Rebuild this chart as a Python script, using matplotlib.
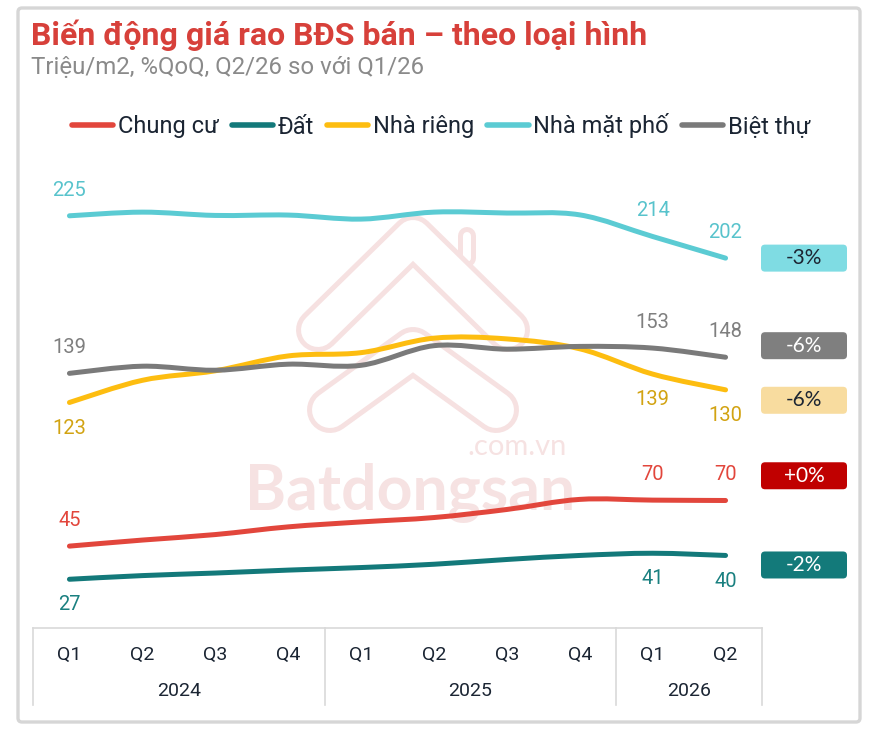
import numpy as np
import matplotlib.pyplot as plt
from matplotlib.path import Path
from matplotlib.patches import PathPatch, FancyBboxPatch
from matplotlib.lines import Line2D
from matplotlib.transforms import IdentityTransform

"""Biến động giá rao BĐS bán theo loại hình, Q1/24 - Q2/26"""

quarters = ["Q1", "Q2", "Q3", "Q4", "Q1", "Q2", "Q3", "Q4", "Q1", "Q2"]
years = ["2024", "2025", "2026"]
year_span = [4, 4, 2]

series_names = ["Chung cư", "Đất", "Nhà riêng", "Nhà mặt phố", "Biệt thự"]
chung_cu = [44.7, 48.0, 51.0, 55.2, 57.9, 60.3, 64.7, 70.2, 69.8, 69.6]
dat = [26.6, 28.6, 30.0, 31.6, 33.0, 34.8, 37.4, 39.6, 40.8, 39.6]
nha_rieng = [123.1, 135.2, 140.4, 148.5, 150.3, 158.2, 157.8, 152.4, 138.6, 130.0]
nha_mat_pho = [225.0, 227.0, 225.2, 225.4, 223.2, 227.0, 226.5, 225.5, 213.7, 201.9]
biet_thu = [139.0, 142.9, 140.7, 144.0, 143.4, 154.1, 152.2, 153.7, 152.8, 147.8]
pct_change = ["+0%", "-2%", "-6%", "-3%", "-6%"]

# styles
W, H = 880, 740
line_colors = ["#e2463c", "#13797a", "#fdbd10", "#5bcbd3", "#7a7a7a"]
label_colors = ["#e2463c", "#1a8080", "#d2a312", "#58c3cc", "#7f7f7f"]
badge_fc = ["#c00000", "#137a7a", "#f8dc9f", "#7fdce3", "#7f7f7f"]
badge_tc = ["white", "white", "#1d2633", "#1d2633", "white"]
badge_pos = [83.1, 34.4, 124.3, 201.9, 154.1]   # badge centre, y units
label_side = [1, -1, -1, 1, 1]                    # 1 above, -1 below
dark = "#1b2533"
font = "Roboto"


def smooth_path(xs, ys):
    """Catmull-Rom style bezier path through the points (like Excel smoothing)"""
    pts = np.column_stack([xs, ys]).astype(float)
    n = len(pts)
    verts = [pts[0]]
    codes = [Path.MOVETO]
    for i in range(n - 1):
        p0 = pts[max(i - 1, 0)]
        p1 = pts[i]
        p2 = pts[i + 1]
        p3 = pts[min(i + 2, n - 1)]
        c1 = p1 + (p2 - p0) / 6
        c2 = p2 - (p3 - p1) / 6
        verts += [c1, c2, p2]
        codes += [Path.CURVE4] * 3
    return Path(verts, codes)


def fx(px):
    return px / W


def fy(py):
    return 1 - py / H


def outlined_band(xs, ys, width, edge, z):
    """thick band drawn as an outline only (watermark logo)"""
    yy = [H - v for v in ys]
    for lw, c in [(width, "#f6e1e1"), (width - 2 * edge, "white")]:
        fig.add_artist(Line2D(xs, yy, transform=IdentityTransform(), color=c,
                              lw=lw * 0.72, solid_joinstyle="round",
                              solid_capstyle="round", zorder=z))


fig = plt.figure(figsize=(W / 100, H / 100), dpi=100)
fig.patch.set_facecolor("white")

# outer frame
frame = FancyBboxPatch((18, H - 722), 842, 714, boxstyle="round,pad=0,rounding_size=4",
                       transform=IdentityTransform(), fc="white", ec="#d6d6d6", lw=2.4,
                       zorder=0)
fig.add_artist(frame)

# title / subtitle
fig.text(fx(31), fy(35), "Biến động giá rao BĐS bán – theo loại hình", fontsize=23,
         fontweight="bold", color="#d7403a", family=font, va="center", ha="left")
fig.text(fx(31), fy(67), "Triệu/m2, %QoQ, Q2/26 so với Q1/26", fontsize=17.3,
         color="#8a8a8a", family=font, va="center", ha="left")

# watermark logo + text (under the chart)
outlined_band([467, 467], [258, 236], 18, 5, 0.40)
outlined_band([318, 413, 508], [330, 237, 330], 44, 5, 0.42)
outlined_band([330, 413, 496], [410, 350, 410], 46, 5, 0.44)
fig.text(fx(410), fy(492), "Batdongsan", fontsize=45, fontweight="bold", color="#f6e2e2",
         family="Lato", ha="center", va="center", zorder=0.6)
fig.text(fx(517), fy(447), ".com.vn", fontsize=21, color="#f6e2e2", family="Lato",
         ha="center", va="center", zorder=0.6)

ax = fig.add_axes([fx(33), fy(628), fx(762 - 33), (628 - 170) / H])
ax.set_zorder(2)
ax.set_xlim(-0.5, 9.5)
ax.set_ylim(0, 250)
ax.axis("off")

x = np.arange(len(quarters))
all_series = [chung_cu, dat, nha_rieng, nha_mat_pho, biet_thu]
for i, vals in enumerate(all_series):
    patch = PathPatch(smooth_path(x, vals), fc="none", ec=line_colors[i], lw=3.6,
                      capstyle="round", zorder=3 + i)
    ax.add_patch(patch)
    # labels at first point and the last two
    for j in [0, len(vals) - 2, len(vals) - 1]:
        ax.annotate(f"{round(vals[j])}", (x[j], vals[j]),
                    xytext=(0, 18.5 * label_side[i]), textcoords="offset points",
                    ha="center", va="center", fontsize=14.5, color=label_colors[i],
                    family=font, zorder=10)
    # badge on the right
    yc = ax.transData.transform((0, badge_pos[i]))[1]
    badge = FancyBboxPatch((761, yc - 13.5), 86, 27, boxstyle="round,pad=0,rounding_size=4",
                           transform=IdentityTransform(), fc=badge_fc[i], ec="none",
                           zorder=5)
    fig.add_artist(badge)
    fig.text(fx(804), yc / H, pct_change[i], fontsize=15, color=badge_tc[i],
             family="Lato", ha="center", va="center", zorder=6)

# category axis box
xa = ax.get_xaxis_transform()
box_c = "#d9d9d9"
ax.plot([-0.5, 9.5], [0, 0], color=box_c, lw=1.2, transform=xa, clip_on=False)
bot = -(705 - 628) / (628 - 170)
edges = np.concatenate([[-0.5], np.cumsum(year_span) - 0.5])
for e in edges:
    ax.plot([e, e], [0, bot], color=box_c, lw=1.2, transform=xa, clip_on=False)
for j, q in enumerate(quarters):
    ax.text(j, -(655 - 628) / 458, q, transform=xa, ha="center", va="center",
            fontsize=14, color=dark, family=font)
for k, yr in enumerate(years):
    mid = (edges[k] + edges[k + 1]) / 2
    ax.text(mid, -(691 - 628) / 458, yr, transform=xa, ha="center", va="center",
            fontsize=14, color=dark, family=font)

# legend
handles = [Line2D([], [], color=c, lw=4, solid_capstyle="round") for c in line_colors]
fig.legend(handles, series_names, loc="center", bbox_to_anchor=(fx(441), fy(126)),
           ncol=5, frameon=False, handlelength=1.75, handletextpad=0.2,
           columnspacing=0.55, prop={"family": font, "size": 17}, labelcolor=dark)

fig.savefig("out.png", dpi=100)
